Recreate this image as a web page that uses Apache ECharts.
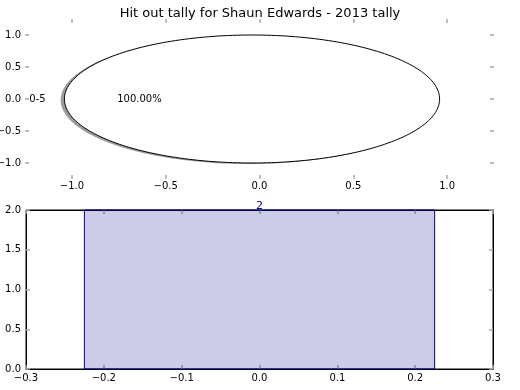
<!DOCTYPE html>
<html><head><meta charset="utf-8">
<script src="https://cdn.jsdelivr.net/npm/echarts@6/dist/echarts.min.js"></script>
<style>html,body{margin:0;padding:0;background:#fff}#c{width:520px;height:390px}</style>
</head><body><div id="c"></div>
<script>
// ---- data ----
const titleText = 'Hit out tally for Shaun Edwards - 2013 tally';
const pieLabels = ['0-5'];
const pieValues = [2];
const barPositions = [0];
const barValues = [2];
const pieXTicks = [-1.0, -0.5, 0.0, 0.5, 1.0];
const pieYTicks = [-1.0, -0.5, 0.0, 0.5, 1.0];
const barXTicks = [-0.3, -0.2, -0.1, 0.0, 0.1, 0.2, 0.3];
const barYTicks = [0.0, 0.5, 1.0, 1.5, 2.0];

// ---- style / geometry constants ----
const FONT = 'DejaVu Sans';
const PIE_CENTER = [-0.04, 0];
const PIE_RADIUS = 1;
const BAR_WIDTH = 0.45;
const TICK_COLOR = '#aaaaaa';

function fmt(v) { return (v < 0 ? '\u2212' : '') + Math.abs(v).toFixed(1); }

function mkAxis(gridIndex, position, min, max, ticks, showLabel, showLine, margin) {
  return {
    type: 'value', gridIndex, position, min, max,
    splitLine: { show: false },
    axisLine: { show: showLine, onZero: false, lineStyle: { color: '#000', width: 1 } },
    axisTick: { show: true, inside: true, length: 4, customValues: ticks, lineStyle: { color: TICK_COLOR, width: 1.5 } },
    axisLabel: { show: showLabel, customValues: ticks, formatter: fmt, color: '#000', fontFamily: FONT, fontSize: 10, margin: margin, hideOverlap: false }
  };
}

const chart = echarts.init(document.getElementById('c'), null, { renderer: 'canvas' });

const total = pieValues.reduce((a, b) => a + b, 0);

function pieRender(params, api) {
  const i = params.dataIndex;
  let before = 0;
  for (let k = 0; k < i; k++) before += pieValues[k];
  const frac = pieValues[i] / total;
  const a0 = before / total * 2 * Math.PI;
  const a1 = a0 + frac * 2 * Math.PI;
  const n = 240;
  function pts(dx, dy) {
    const out = [];
    if (frac < 1) out.push(api.coord([PIE_CENTER[0] + dx, PIE_CENTER[1] + dy]));
    for (let s = 0; s <= n; s++) {
      const t = a0 + (a1 - a0) * s / n;
      out.push(api.coord([PIE_CENTER[0] + dx + PIE_RADIUS * Math.cos(t), PIE_CENTER[1] + dy + PIE_RADIUS * Math.sin(t)]));
    }
    return out;
  }
  const mid = (a0 + a1) / 2;
  const lp = api.coord([PIE_CENTER[0] + 1.1 * PIE_RADIUS * Math.cos(mid), PIE_CENTER[1] + 1.1 * PIE_RADIUS * Math.sin(mid)]);
  const pp = api.coord([PIE_CENTER[0] + 0.6 * PIE_RADIUS * Math.cos(mid), PIE_CENTER[1] + 0.6 * PIE_RADIUS * Math.sin(mid)]);
  return {
    type: 'group',
    children: [
      { type: 'polygon', shape: { points: pts(-0.02, -0.015) }, style: { fill: 'rgba(77,77,77,0.55)' } },
      { type: 'polygon', shape: { points: pts(0, 0) }, style: { fill: '#ffffff', stroke: '#000000', lineWidth: 1 } },
      { type: 'text', x: lp[0], y: lp[1], style: { text: pieLabels[i], fill: '#000', fontFamily: FONT, fontSize: 10, align: Math.cos(mid) < 0 ? 'right' : 'left', verticalAlign: 'middle' } },
      { type: 'text', x: pp[0], y: pp[1], style: { text: (frac * 100).toFixed(2) + '%', fill: '#000', fontFamily: FONT, fontSize: 10, align: 'center', verticalAlign: 'middle' } }
    ]
  };
}

function barRender(params, api) {
  const x = api.value(0), v = api.value(1);
  const p1 = api.coord([x - BAR_WIDTH / 2, v]);
  const p2 = api.coord([x + BAR_WIDTH / 2, 0]);
  const pc = api.coord([x, v]);
  return {
    type: 'group',
    children: [
      { type: 'rect', shape: { x: p1[0], y: p1[1], width: p2[0] - p1[0], height: p2[1] - p1[1] }, style: { fill: 'rgba(0,0,128,0.2)', stroke: '#000080', lineWidth: 1 } },
      { type: 'text', x: pc[0], y: pc[1] + 2, style: { text: String(v), fill: '#000080', fontFamily: FONT, fontSize: 11, align: 'center', verticalAlign: 'bottom' } }
    ]
  };
}

chart.setOption({
  animation: false,
  backgroundColor: '#fff',
  title: { text: titleText, left: 'center', top: 2, textStyle: { fontFamily: FONT, fontSize: 13, fontWeight: 'normal', color: '#000' } },
  grid: [
    { left: 25, top: 19, width: 469, height: 160, show: false, containLabel: false, outerBoundsMode: 'none' },
    { left: 26, top: 210, width: 467, height: 159, show: true, borderColor: '#000', borderWidth: 1, backgroundColor: 'transparent', containLabel: false, outerBoundsMode: 'none' }
  ],
  xAxis: [
    mkAxis(0, 'bottom', -1.25, 1.25, pieXTicks, true, false, 2),
    mkAxis(0, 'top', -1.25, 1.25, pieXTicks, false, false, 2),
    mkAxis(1, 'bottom', -0.3, 0.3, barXTicks, true, true, 4),
    mkAxis(1, 'top', -0.3, 0.3, barXTicks, false, true, 4)
  ],
  yAxis: [
    mkAxis(0, 'left', -1.25, 1.25, pieYTicks, true, false, 4),
    mkAxis(0, 'right', -1.25, 1.25, pieYTicks, false, false, 4),
    mkAxis(1, 'left', 0, 2, barYTicks, true, true, 5),
    mkAxis(1, 'right', 0, 2, barYTicks, false, true, 5)
  ],
  series: [
    { type: 'custom', xAxisIndex: 0, yAxisIndex: 0, data: pieValues.map((v, i) => [v, i]), renderItem: pieRender, silent: true },
    { type: 'custom', xAxisIndex: 2, yAxisIndex: 2, data: barPositions.map((x, i) => [x, barValues[i]]), renderItem: barRender, silent: true, z: 1 }
  ]
});
</script>
</body></html>
